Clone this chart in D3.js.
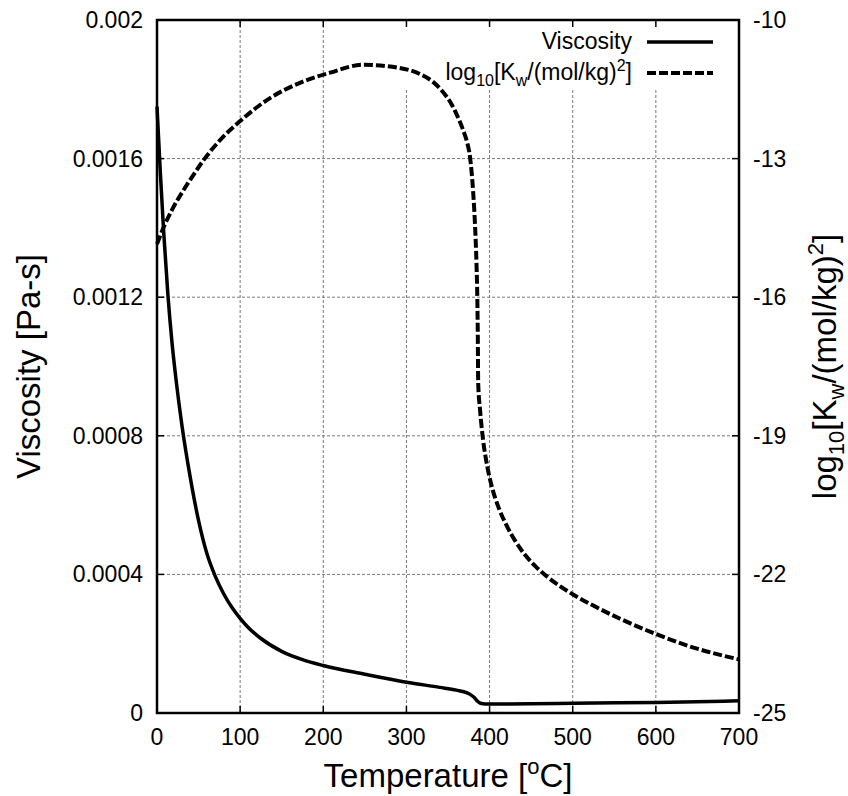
<!DOCTYPE html>
<html>
<head>
<meta charset="utf-8">
<script src="https://cdn.jsdelivr.net/npm/d3@7"></script>
<style>
  body { margin: 0; background: #fff; }
  text { font-family: "Liberation Sans", Arial, Helvetica, sans-serif; fill: #000; }
</style>
</head>
<body>
<div class="graphic"></div>
<script>
// viscosity of water vs temperature (left axis)
var tempVisc = [0, 4, 8, 13, 18, 23, 30, 40, 50, 60, 70, 80, 90, 100, 110, 125, 150, 175, 200, 250, 300, 340, 360, 373, 377, 381, 385, 389, 395, 450, 500, 600, 700];
var viscosity = [0.00175, 0.00156, 0.00139, 0.00121, 0.00107, 0.00096, 0.00083, 0.00068, 0.000555, 0.00046, 0.000395, 0.000345, 0.000305, 0.000273, 0.000246, 0.000215, 0.000178, 0.000154, 0.000137, 0.000112, 0.000089, 0.000074, 0.000066, 0.000058, 0.000053, 0.000046, 0.000035, 0.000028, 0.000026, 0.0000265, 0.000028, 0.0000305, 0.000035];

// log10 Kw vs temperature (right axis)
var tempKw = [0, 3.6, 9.6, 18, 31.3, 42.1, 55.3, 75.8, 99.8, 135.9, 172, 208.1, 247.8, 288.7, 316.3, 332, 344, 353.6, 360.8, 368.1, 372.9, 376.5, 380.1, 382.5, 384.3, 385.3, 385.9, 386.3, 388.5, 392, 397, 403, 411, 421, 431, 441, 455, 470, 485, 500, 521, 557, 600, 641, 700];
var logKw = [-14.85, -14.68, -14.42, -14.11, -13.7, -13.4, -13.05, -12.6, -12.19, -11.69, -11.36, -11.14, -10.97, -11.03, -11.17, -11.34, -11.56, -11.8, -12.06, -12.38, -12.64, -12.97, -13.68, -14.44, -15.3, -16.06, -16.93, -17.86, -18.43, -19.06, -19.64, -20.12, -20.56, -20.96, -21.28, -21.54, -21.82, -22.06, -22.26, -22.43, -22.64, -22.96, -23.29, -23.56, -23.84];

var xTicks = [0, 100, 200, 300, 400, 500, 600, 700];
var yTicks = [0, 0.0004, 0.0008, 0.0012, 0.0016, 0.002];
var yTickLabels = ["0", "0.0004", "0.0008", "0.0012", "0.0016", "0.002"];
var y2Ticks = [-25, -22, -19, -16, -13, -10];

var render = function() {
  var W = 848, H = 796;
  var pl = 157, pr = 739, pt = 20, pb = 713;

  var svg = d3.select(".graphic").append("svg")
    .attr("width", W).attr("height", H);

  var x = d3.scaleLinear().domain([0, 700]).range([pl, pr]);
  var y = d3.scaleLinear().domain([0, 0.002]).range([pb, pt]);
  var y2 = d3.scaleLinear().domain([-25, -10]).range([pb, pt]);

  // grid
  var grid = svg.append("g")
    .attr("stroke", "#7a7a7a").attr("stroke-width", 1).attr("stroke-dasharray", "3,2");
  grid.selectAll(".gx").data(xTicks.slice(1, -1)).enter().append("line")
    .attr("x1", d => x(d)).attr("x2", d => x(d))
    .attr("y1", pt).attr("y2", pb);
  grid.selectAll(".gy").data(yTicks.slice(1, -1)).enter().append("line")
    .attr("x1", pl).attr("x2", pr)
    .attr("y1", d => y(d)).attr("y2", d => y(d));

  // key background hides grid
  svg.append("rect")
    .attr("x", 398).attr("y", pt + 1)
    .attr("width", pr - 398 - 1).attr("height", 67)
    .attr("fill", "#fff");

  // ticks on all four sides (inward)
  var tk = svg.append("g").attr("stroke", "#000").attr("stroke-width", 1.5);
  xTicks.forEach(function(d) {
    tk.append("line").attr("x1", x(d)).attr("x2", x(d)).attr("y1", pb).attr("y2", pb - 7);
    tk.append("line").attr("x1", x(d)).attr("x2", x(d)).attr("y1", pt).attr("y2", pt + 7);
  });
  yTicks.forEach(function(d) {
    tk.append("line").attr("x1", pl).attr("x2", pl + 7).attr("y1", y(d)).attr("y2", y(d));
  });
  y2Ticks.forEach(function(d) {
    tk.append("line").attr("x1", pr).attr("x2", pr - 7).attr("y1", y2(d)).attr("y2", y2(d));
  });

  // curves
  var lineV = d3.line()
    .x((d, i) => x(tempVisc[i]))
    .y(d => y(d))
    .curve(d3.curveMonotoneX);
  var lineK = d3.line()
    .x((d, i) => x(tempKw[i]))
    .y(d => y2(d))
    .curve(d3.curveMonotoneX);

  svg.append("path").datum(viscosity)
    .attr("d", lineV)
    .attr("fill", "none").attr("stroke", "#000").attr("stroke-width", 3.5)
    .attr("stroke-linejoin", "round");

  svg.append("path").datum(logKw)
    .attr("d", lineK)
    .attr("fill", "none").attr("stroke", "#000").attr("stroke-width", 4)
    .attr("stroke-dasharray", "9,3");

  // frame
  svg.append("rect")
    .attr("x", pl).attr("y", pt)
    .attr("width", pr - pl).attr("height", pb - pt)
    .attr("fill", "none").attr("stroke", "#000").attr("stroke-width", 2.5);

  // tick labels
  var fs = 23;
  svg.selectAll(".xl").data(xTicks).enter().append("text")
    .attr("x", d => x(d)).attr("y", 745)
    .attr("text-anchor", "middle").attr("font-size", fs)
    .text(d => d);
  svg.selectAll(".yl").data(yTicks).enter().append("text")
    .attr("x", 143).attr("y", d => y(d) + 8)
    .attr("text-anchor", "end").attr("font-size", fs)
    .text((d, i) => yTickLabels[i]);
  svg.selectAll(".y2l").data(y2Ticks).enter().append("text")
    .attr("x", 753).attr("y", d => y2(d) + 8)
    .attr("text-anchor", "start").attr("font-size", fs)
    .text(d => d);

  // axis titles
  var xt = svg.append("text")
    .attr("x", (pl + pr) / 2).attr("y", 787)
    .attr("text-anchor", "middle").attr("font-size", 33);
  xt.append("tspan").text("Temperature [");
  xt.append("tspan").attr("font-size", 22).attr("dy", -13).text("o");
  xt.append("tspan").attr("dy", 13).text("C]");

  svg.append("text")
    .attr("transform", "translate(40," + (pt + pb) / 2 + ") rotate(-90)")
    .attr("text-anchor", "middle").attr("font-size", 33)
    .text("Viscosity [Pa-s]");

  var rt = svg.append("text")
    .attr("transform", "translate(836," + (pt + pb) / 2 + ") rotate(-90)")
    .attr("text-anchor", "middle").attr("font-size", 33);
  rt.append("tspan").text("log");
  rt.append("tspan").attr("font-size", 22).attr("dy", 8).text("10");
  rt.append("tspan").attr("dy", -8).text("[K");
  rt.append("tspan").attr("font-size", 22).attr("dy", 8).text("w");
  rt.append("tspan").attr("dy", -8).text("/(mol/kg)");
  rt.append("tspan").attr("font-size", 22).attr("dy", -13).text("2");
  rt.append("tspan").attr("dy", 13).text("]");

  // key
  var keyX = 632;
  svg.append("text").attr("x", keyX).attr("y", 49)
    .attr("text-anchor", "end").attr("font-size", fs).text("Viscosity");
  svg.append("line").attr("x1", 647).attr("x2", 713).attr("y1", 42).attr("y2", 42)
    .attr("stroke", "#000").attr("stroke-width", 3.5);

  var kt = svg.append("text").attr("x", keyX).attr("y", 80)
    .attr("text-anchor", "end").attr("font-size", fs);
  kt.append("tspan").text("log");
  kt.append("tspan").attr("font-size", 16).attr("dy", 6).text("10");
  kt.append("tspan").attr("dy", -6).text("[K");
  kt.append("tspan").attr("font-size", 16).attr("dy", 6).text("w");
  kt.append("tspan").attr("dy", -6).text("/(mol/kg)");
  kt.append("tspan").attr("font-size", 16).attr("dy", -9).text("2");
  kt.append("tspan").attr("dy", 9).text("]");
  svg.append("line").attr("x1", 647).attr("x2", 713).attr("y1", 73).attr("y2", 73)
    .attr("stroke", "#000").attr("stroke-width", 4).attr("stroke-dasharray", "9,3");
};

render();
</script>
</body>
</html>
